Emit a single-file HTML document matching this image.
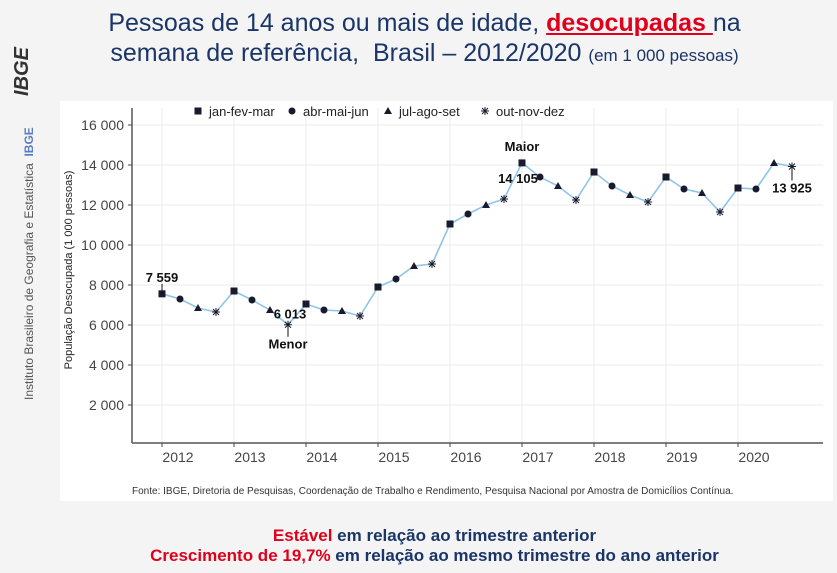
<!DOCTYPE html>
<html><head><meta charset="utf-8">
<style>
body{margin:0;width:837px;height:573px;background:#f4f4f4;font-family:"Liberation Sans",sans-serif;overflow:hidden;position:relative}
.t{position:absolute;left:36px;width:777px;text-align:center;color:#1a3568;font-size:25px;line-height:30px}
</style></head><body>
<div class="t" style="top:8px">Pessoas de 14 anos ou mais de idade, <span style="color:#e0001b;font-weight:bold;text-decoration:underline">desocupadas </span>na<br>semana de referência,&nbsp; Brasil – 2012/2020 <span style="font-size:17px">(em 1 000 pessoas)</span></div>
<div style="position:absolute;left:0;top:0;width:40px;height:573px">
<div style="position:absolute;left:-2px;top:60px;transform:rotate(-90deg);font-weight:bold;font-style:italic;font-size:20px;color:#333">IBGE</div>
<div style="position:absolute;left:22px;top:400px;transform-origin:0 0;transform:rotate(-90deg);white-space:nowrap;font-size:12px;color:#555">Instituto Brasileiro de Geografia e Estatística &nbsp;<span style="color:#5a7ec0;font-weight:bold">IBGE</span></div>
</div>
<svg style="position:absolute;left:0;top:0" width="837" height="573">
<rect x="60" y="101" width="773" height="400" fill="#fff"/>
<g id="grid"></g><g id="axes"></g><g id="marks"></g><g id="legend"></g>
<text x="72" y="270" transform="rotate(-90 72 270)" text-anchor="middle" font-size="11" fill="#222">População Desocupada (1 000 pessoas)</text>
<text x="132" y="494" font-size="10" fill="#333">Fonte: IBGE, Diretoria de Pesquisas, Coordenação de Trabalho e Rendimento, Pesquisa Nacional por Amostra de Domicílios Contínua.</text>
</svg>
<div style="position:absolute;top:526px;left:16px;width:837px;text-align:center;font-weight:bold;font-size:17px;line-height:20px;color:#1a3568"><span style="color:#e0001b">Estável</span> em relação ao trimestre anterior<br><span style="color:#e0001b">Crescimento de 19,7%</span> em relação ao mesmo trimestre do ano anterior</div>
<script>
const years=[2012,2013,2014,2015,2016,2017,2018,2019,2020];
const yTicks=[2000,4000,6000,8000,10000,12000,14000,16000];
const tickLabels=["2 000","4 000","6 000","8 000","10 000","12 000","14 000","16 000"];
const values=[7559,7300,6850,6650, 7700,7250,6750,6013, 7050,6750,6700,6450, 7900,8300,8950,9050, 11050,11550,12000,12300, 14105,13400,12950,12250, 13650,12950,12500,12150, 13400,12800,12600,11650, 12850,12800,14100,13925];
const legendLabels=["jan-fev-mar","abr-mai-jun","jul-ago-set","out-nov-dez"];
const NS="http://www.w3.org/2000/svg";
const xq=i=>162+i*18, yv=v=>445-v*0.02;
function mk(t,a,p){const e=document.createElementNS(NS,t);for(const k in a)e.setAttribute(k,a[k]);p.appendChild(e);return e;}
const G=document.getElementById('grid'),A=document.getElementById('axes'),M=document.getElementById('marks'),L=document.getElementById('legend');
yTicks.forEach((v,i)=>{mk('line',{x1:132,x2:823,y1:yv(v),y2:yv(v),stroke:'#ebebeb'},G);
const t=mk('text',{x:124,y:yv(v)+5,'text-anchor':'end','font-size':14,fill:'#444'},A);t.textContent=tickLabels[i];


mk('line',{x1:128,x2:132,y1:yv(v),y2:yv(v),stroke:'#444'},A);});
years.forEach((y,i)=>{const x=xq(i*4);mk('line',{x1:x,x2:x,y1:108,y2:443,stroke:'#ebebeb'},G);
const t=mk('text',{x:x+16,y:462,'text-anchor':'middle','font-size':14,fill:'#444'},A);t.textContent=y;


mk('line',{x1:x,x2:x,y1:443,y2:447,stroke:'#444'},A);});
mk('line',{x1:132,x2:132,y1:108,y2:443,stroke:'#555','stroke-width':1.5},A);
mk('line',{x1:132,x2:823,y1:443,y2:443,stroke:'#555','stroke-width':1.5},A);
const pl=mk('polyline',{points:values.map((v,i)=>xq(i)+','+yv(v)).join(' '),fill:'none',stroke:'#8ec5e6','stroke-width':1.6},M);


function marker(q,x,y,p){let e;const c='#1a1a2e';
if(q==0)e=mk('rect',{x:x-3.5,y:y-3.5,width:7,height:7,fill:c},p);
else if(q==1)e=mk('circle',{cx:x,cy:y,r:3.5,fill:c},p);
else if(q==2)e=mk('polygon',{points:`${x},${y-4} ${x+4},${y+3} ${x-4},${y+3}`,fill:c},p);
else e=mk('path',{d:`M${x-4} ${y}H${x+4}M${x} ${y-4}V${y+4}M${x-3} ${y-3}L${x+3} ${y+3}M${x-3} ${y+3}L${x+3} ${y-3}`,stroke:c,'stroke-width':1},p);
return e;}
values.forEach((v,i)=>{const e=marker(i%4,xq(i),yv(v),M);

});
function lab(txt,x,y,anchor){const t=mk('text',{x:x,y:y,'text-anchor':anchor||'middle','font-size':13,'font-weight':'bold',fill:'#111'},M);t.textContent=txt;

}
lab('7 559',xq(0),yv(values[0])-12);mk('line',{x1:xq(0),x2:xq(0),y1:yv(values[0])-10,y2:yv(values[0])},M).setAttribute('stroke','#111');
lab('6 013',xq(7)+2,yv(values[7])-6);lab('Menor',xq(7),yv(values[7])+24);mk('line',{x1:xq(7),x2:xq(7),y1:yv(values[7]),y2:yv(values[7])+12,stroke:'#111'},M);
lab('Maior',xq(20),yv(values[20])-12);lab('14 105',xq(20)-4,yv(values[20])+20);
lab('13 925',xq(35),yv(values[35])+26);mk('line',{x1:xq(35),x2:xq(35),y1:yv(values[35]),y2:yv(values[35])+14,stroke:'#111'},M);
const lx=[198,292,388,485];
legendLabels.forEach((s,i)=>{marker(i,lx[i],111,L);const t=mk('text',{x:lx[i]+11,y:116,'font-size':13,fill:'#222'},L);t.textContent=s;

});
</script>
</body></html>
